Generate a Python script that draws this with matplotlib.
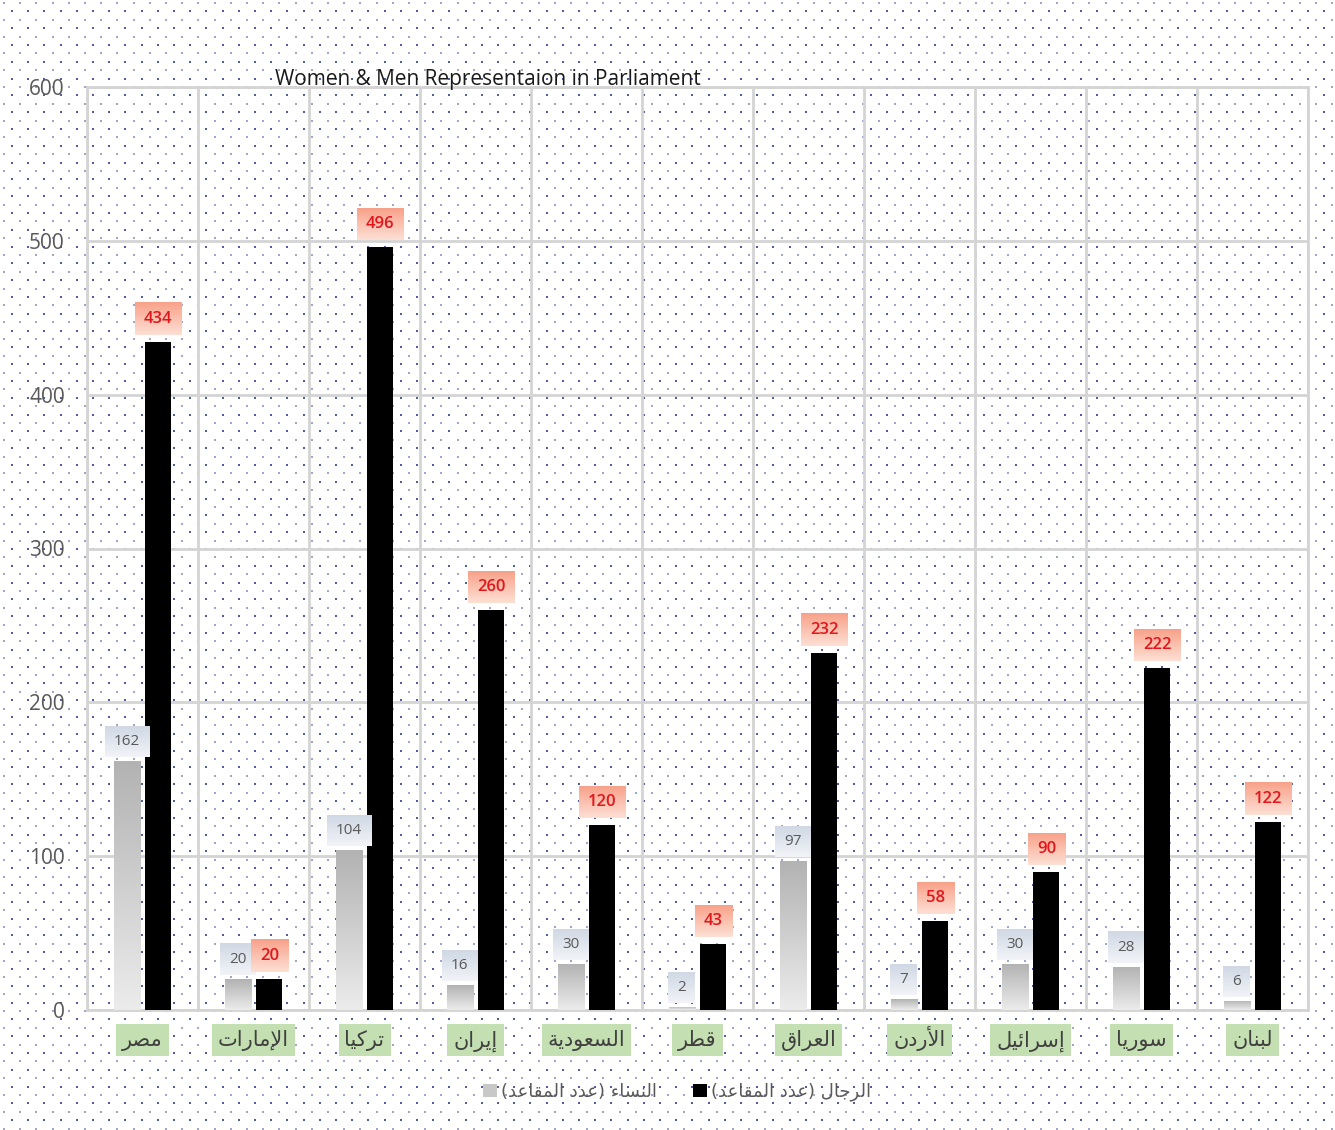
import numpy as np
import matplotlib
matplotlib.use('Agg')
import matplotlib.pyplot as plt
from matplotlib.colors import LinearSegmentedColormap
from matplotlib.patches import Patch, Rectangle
from matplotlib.transforms import IdentityTransform

plt.rcParams['font.family'] = ['Open Sans', 'DejaVu Sans']

# data
countries = ['مصر', 'الإمارات', 'تركيا', 'إيران', 'السعودية', 'قطر',
             'العراق', 'الأردن', 'إسرائيل', 'سوريا', 'لبنان']
women = [162, 20, 104, 16, 30, 2, 97, 7, 30, 28, 6]
men = [434, 20, 496, 260, 120, 43, 232, 58, 90, 222, 122]
women_label = 'النساء (عدد المقاعد)'
men_label = 'الرجال (عدد المقاعد)'
title = 'Women & Men Representaion in Parliament'
yticks = [0, 100, 200, 300, 400, 500, 600]

# --- minimal arabic shaping (matplotlib has no bidi / joining) ---
FORMS = {
    'ء': (0xFE80, 1), 'آ': (0xFE81, 2), 'أ': (0xFE83, 2), 'ؤ': (0xFE85, 2),
    'إ': (0xFE87, 2), 'ئ': (0xFE89, 4), 'ا': (0xFE8D, 2), 'ب': (0xFE8F, 4),
    'ة': (0xFE93, 2), 'ت': (0xFE95, 4), 'ث': (0xFE99, 4), 'ج': (0xFE9D, 4),
    'ح': (0xFEA1, 4), 'خ': (0xFEA5, 4), 'د': (0xFEA9, 2), 'ذ': (0xFEAB, 2),
    'ر': (0xFEAD, 2), 'ز': (0xFEAF, 2), 'س': (0xFEB1, 4), 'ش': (0xFEB5, 4),
    'ص': (0xFEB9, 4), 'ض': (0xFEBD, 4), 'ط': (0xFEC1, 4), 'ظ': (0xFEC5, 4),
    'ع': (0xFEC9, 4), 'غ': (0xFECD, 4), 'ف': (0xFED1, 4), 'ق': (0xFED5, 4),
    'ك': (0xFED9, 4), 'ل': (0xFEDD, 4), 'م': (0xFEE1, 4), 'ن': (0xFEE5, 4),
    'ه': (0xFEE9, 4), 'و': (0xFEED, 2), 'ى': (0xFEEF, 2), 'ي': (0xFEF1, 4),
}
LAM_ALEF = {'آ': 0xFEF5, 'أ': 0xFEF7, 'إ': 0xFEF9, 'ا': 0xFEFB}


def shape(s):
    out = []
    n = len(s)
    i = 0
    prev_joins = False
    while i < n:
        c = s[i]
        if c == 'ل' and i + 1 < n and s[i + 1] in LAM_ALEF:
            out.append(chr(LAM_ALEF[s[i + 1]] + (1 if prev_joins else 0)))
            prev_joins = False
            i += 2
            continue
        if c in FORMS:
            base, nf = FORMS[c]
            nxt = s[i + 1] if i + 1 < n else ''
            next_joins = nf == 4 and nxt in FORMS and FORMS[nxt][1] > 1
            back = prev_joins and nf > 1
            if nf == 1:
                form = 0
            elif back and next_joins:
                form = 3
            elif back:
                form = 1
            elif next_joins:
                form = 2
            else:
                form = 0
            out.append(chr(base + form))
            prev_joins = nf == 4
        else:
            out.append(c)
            prev_joins = False
        i += 1
    vis = ''.join(reversed(out))
    return vis.translate(str.maketrans('()', ')('))


W, H = 1335, 1130
fig = plt.figure(figsize=(W / 100, H / 100), dpi=100)

# dotted pattern background
bg = np.ones((H, W, 3))
light = np.array([0.62, 0.66, 0.78])
dark = np.array([0.30, 0.38, 0.62])
for k, y in enumerate(np.arange(2, H - 1, 8.4)):
    yy = int(round(y))
    col = dark if k % 2 else light
    for x in np.arange(3 + (k % 2) * 8, W - 1, 16.2):
        xx = int(round(x))
        bg[yy:yy + 2, xx:xx + 2] = col
fig.figimage(bg, xo=0, yo=0, origin='upper', zorder=-5)

ax = fig.add_axes([87 / W, 1 - 1010 / H, (1308 - 87) / W, (1010 - 87) / H])
ax.set_facecolor('none')

x = np.arange(len(countries))
bw = 0.235
off = 0.143
grid_c = '#d4d4d4'

wb = ax.bar(x - off, women, bw, color='#cfcfcf', zorder=2)
mb = ax.bar(x + off, men, bw, color='black', zorder=2)

ax.set_xlim(-0.5, len(countries) - 0.5)
ax.set_ylim(0, 600)
ax.set_autoscale_on(False)

# gradient on women bars
gray_cm = LinearSegmentedColormap.from_list('g', ['#ececec', '#b2b2b2'])
grad = np.linspace(0, 1, 256).reshape(-1, 1)
for p in wb:
    im = ax.imshow(grad, cmap=gray_cm, origin='lower', aspect='auto',
                   extent=[p.get_x(), p.get_x() + p.get_width(), 0, p.get_height()],
                   zorder=2.1)
    im.set_clip_path(p)

# grid
ax.set_yticks(yticks)
ax.set_yticklabels([str(v) for v in yticks])
ax.set_xticks(np.arange(-0.5, len(countries), 1), minor=True)
ax.grid(axis='y', which='major', color=grid_c, lw=2, zorder=1)
ax.grid(axis='x', which='minor', color=grid_c, lw=2, zorder=1)
ax.set_axisbelow(True)
for s in ax.spines.values():
    s.set_color(grid_c)
    s.set_linewidth(2)
    s.set_zorder(1)
ax.tick_params(axis='y', length=0, pad=16, labelsize=15, labelcolor='#595959')
ax.tick_params(axis='x', which='both', length=0)

ax.set_xticks(x)
ax.set_xticklabels([shape(c) for c in countries], fontsize=15, color='#404040',
                   family='DejaVu Sans')
ax.tick_params(axis='x', which='major', pad=26)
for t in ax.get_xticklabels():
    t.set_va('baseline')

# value labels
labels = []
for p, v in zip(wb, women):
    t = ax.annotate(str(v), (p.get_x() + p.get_width() / 2, v), xytext=(0, 12),
                    textcoords='offset pixels', ha='center', va='bottom',
                    fontsize=11, color='#595959', zorder=5)
    labels.append((t, 'w'))
for p, v in zip(mb, men):
    t = ax.annotate(str(v), (p.get_x() + p.get_width() / 2, v), xytext=(0, 15),
                    textcoords='offset pixels', ha='center', va='bottom',
                    fontsize=12, color='#e2161c', fontweight='semibold', zorder=5)
    labels.append((t, 'm'))

fig.text(488 / W, 1 - 79 / H, title, ha='center', va='center', fontsize=15,
         color='#1a1a1a')

fig.legend(handles=[Patch(facecolor='#c8c8c8'), Patch(facecolor='black')],
           labels=[shape(women_label), shape(men_label)],
           loc='center', bbox_to_anchor=(677 / W, 1 - 1092 / H), ncol=2,
           frameon=False, labelcolor='#595959',
           handlelength=0.8, handleheight=0.8, handletextpad=0.2,
           columnspacing=2.0, prop={'family': 'DejaVu Sans', 'size': 13})

# gradient boxes behind value labels, green boxes behind country names
fig.canvas.draw()
r = fig.canvas.get_renderer()
w_cm = LinearSegmentedColormap.from_list('w', ['#f2f4f8', '#d0d8e4'])
m_cm = LinearSegmentedColormap.from_list('m', ['#fde0d5', '#f8a189'])
inv = ax.transData.inverted()
for t, kind in labels:
    bb = t.get_window_extent(r)
    padx = 9
    (x0, y0), (x1, y1) = inv.transform([(bb.x0 - padx, bb.y0 - 8),
                                        (bb.x1 + padx, bb.y1 + 8)])
    ax.imshow(grad, cmap=w_cm if kind == 'w' else m_cm, origin='lower',
              aspect='auto', extent=[x0, x1, y0, y1],
              zorder=3 if kind == 'w' else 3.5, clip_on=False)

for t in ax.get_xticklabels():
    bb = t.get_window_extent(r)
    fig.add_artist(Rectangle((bb.x0 - 6, H - 1056), bb.width + 12, 32,
                             transform=IdentityTransform(), facecolor='#c4dfb1',
                             edgecolor='none', zorder=-1))

ax.set_xlim(-0.5, len(countries) - 0.5)
ax.set_ylim(0, 600)

fig.savefig('out.png', dpi=100)
